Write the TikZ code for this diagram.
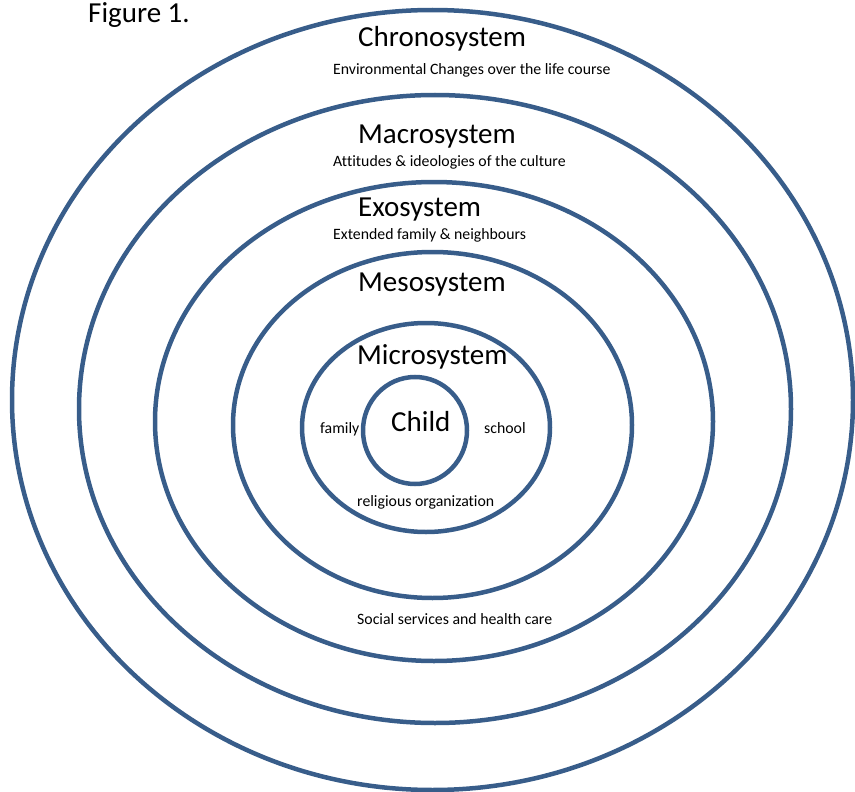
\documentclass[tikz,border=0pt]{standalone}
\usepackage{fontspec}
\setmainfont{Carlito}[Ligatures={NoCommon,TeX}]
\definecolor{ringblue}{HTML}{385D8A}
\begin{document}
\begin{tikzpicture}[x=1pt,y=1pt,
  ring/.style={draw=ringblue,line width=4.5pt},
  big/.style={inner sep=0pt,anchor=base west,font=\fontsize{29}{32}\selectfont},
  small/.style={inner sep=0pt,anchor=base west,font=\fontsize{15.8}{18}\selectfont}]
\useasboundingbox (0,0) rectangle (855,-792);
\draw[ring] (432.5,-400) ellipse [x radius=420.5pt, y radius=390pt];
\draw[ring] (435,-409) ellipse [x radius=356pt, y radius=314pt];
\draw[ring] (434,-421.5) ellipse [x radius=279pt, y radius=239.5pt];
\draw[ring] (432.5,-425) ellipse [x radius=199.5pt, y radius=173pt];
\draw[ring] (426,-427.5) ellipse [x radius=124pt, y radius=104.5pt];
\draw[ring] (415,-430.5) ellipse [x radius=52pt, y radius=53.5pt];
\node[big] (fig) at (88,-23) {Figure 1.};
\node[big] (chrono) at (358,-47) {Chronosystem};
\node[small] (chronot) at (333,-75) {Environmental Changes over the life course};
\node[big] (macro) at (358,-143) {Macrosystem};
\node[small] (macrot) at (333,-166) {Attitudes \& ideologies of the culture};
\node[big] (exo) at (358,-216) {Exosystem};
\node[small] (exot) at (333,-239) {Extended family \& neighbours};
\node[big] (meso) at (358,-291) {Mesosystem};
\node[big] (micro) at (357,-364) {Microsystem};
\node[big] (child) at (391,-431) {Child};
\node[small] (family) at (320,-433) {family};
\node[small] (school) at (484,-433) {school};
\node[small] (relig) at (357,-506) {religious organization};
\node[small] (social) at (357,-624) {Social services and health care};
\end{tikzpicture}
\end{document}
